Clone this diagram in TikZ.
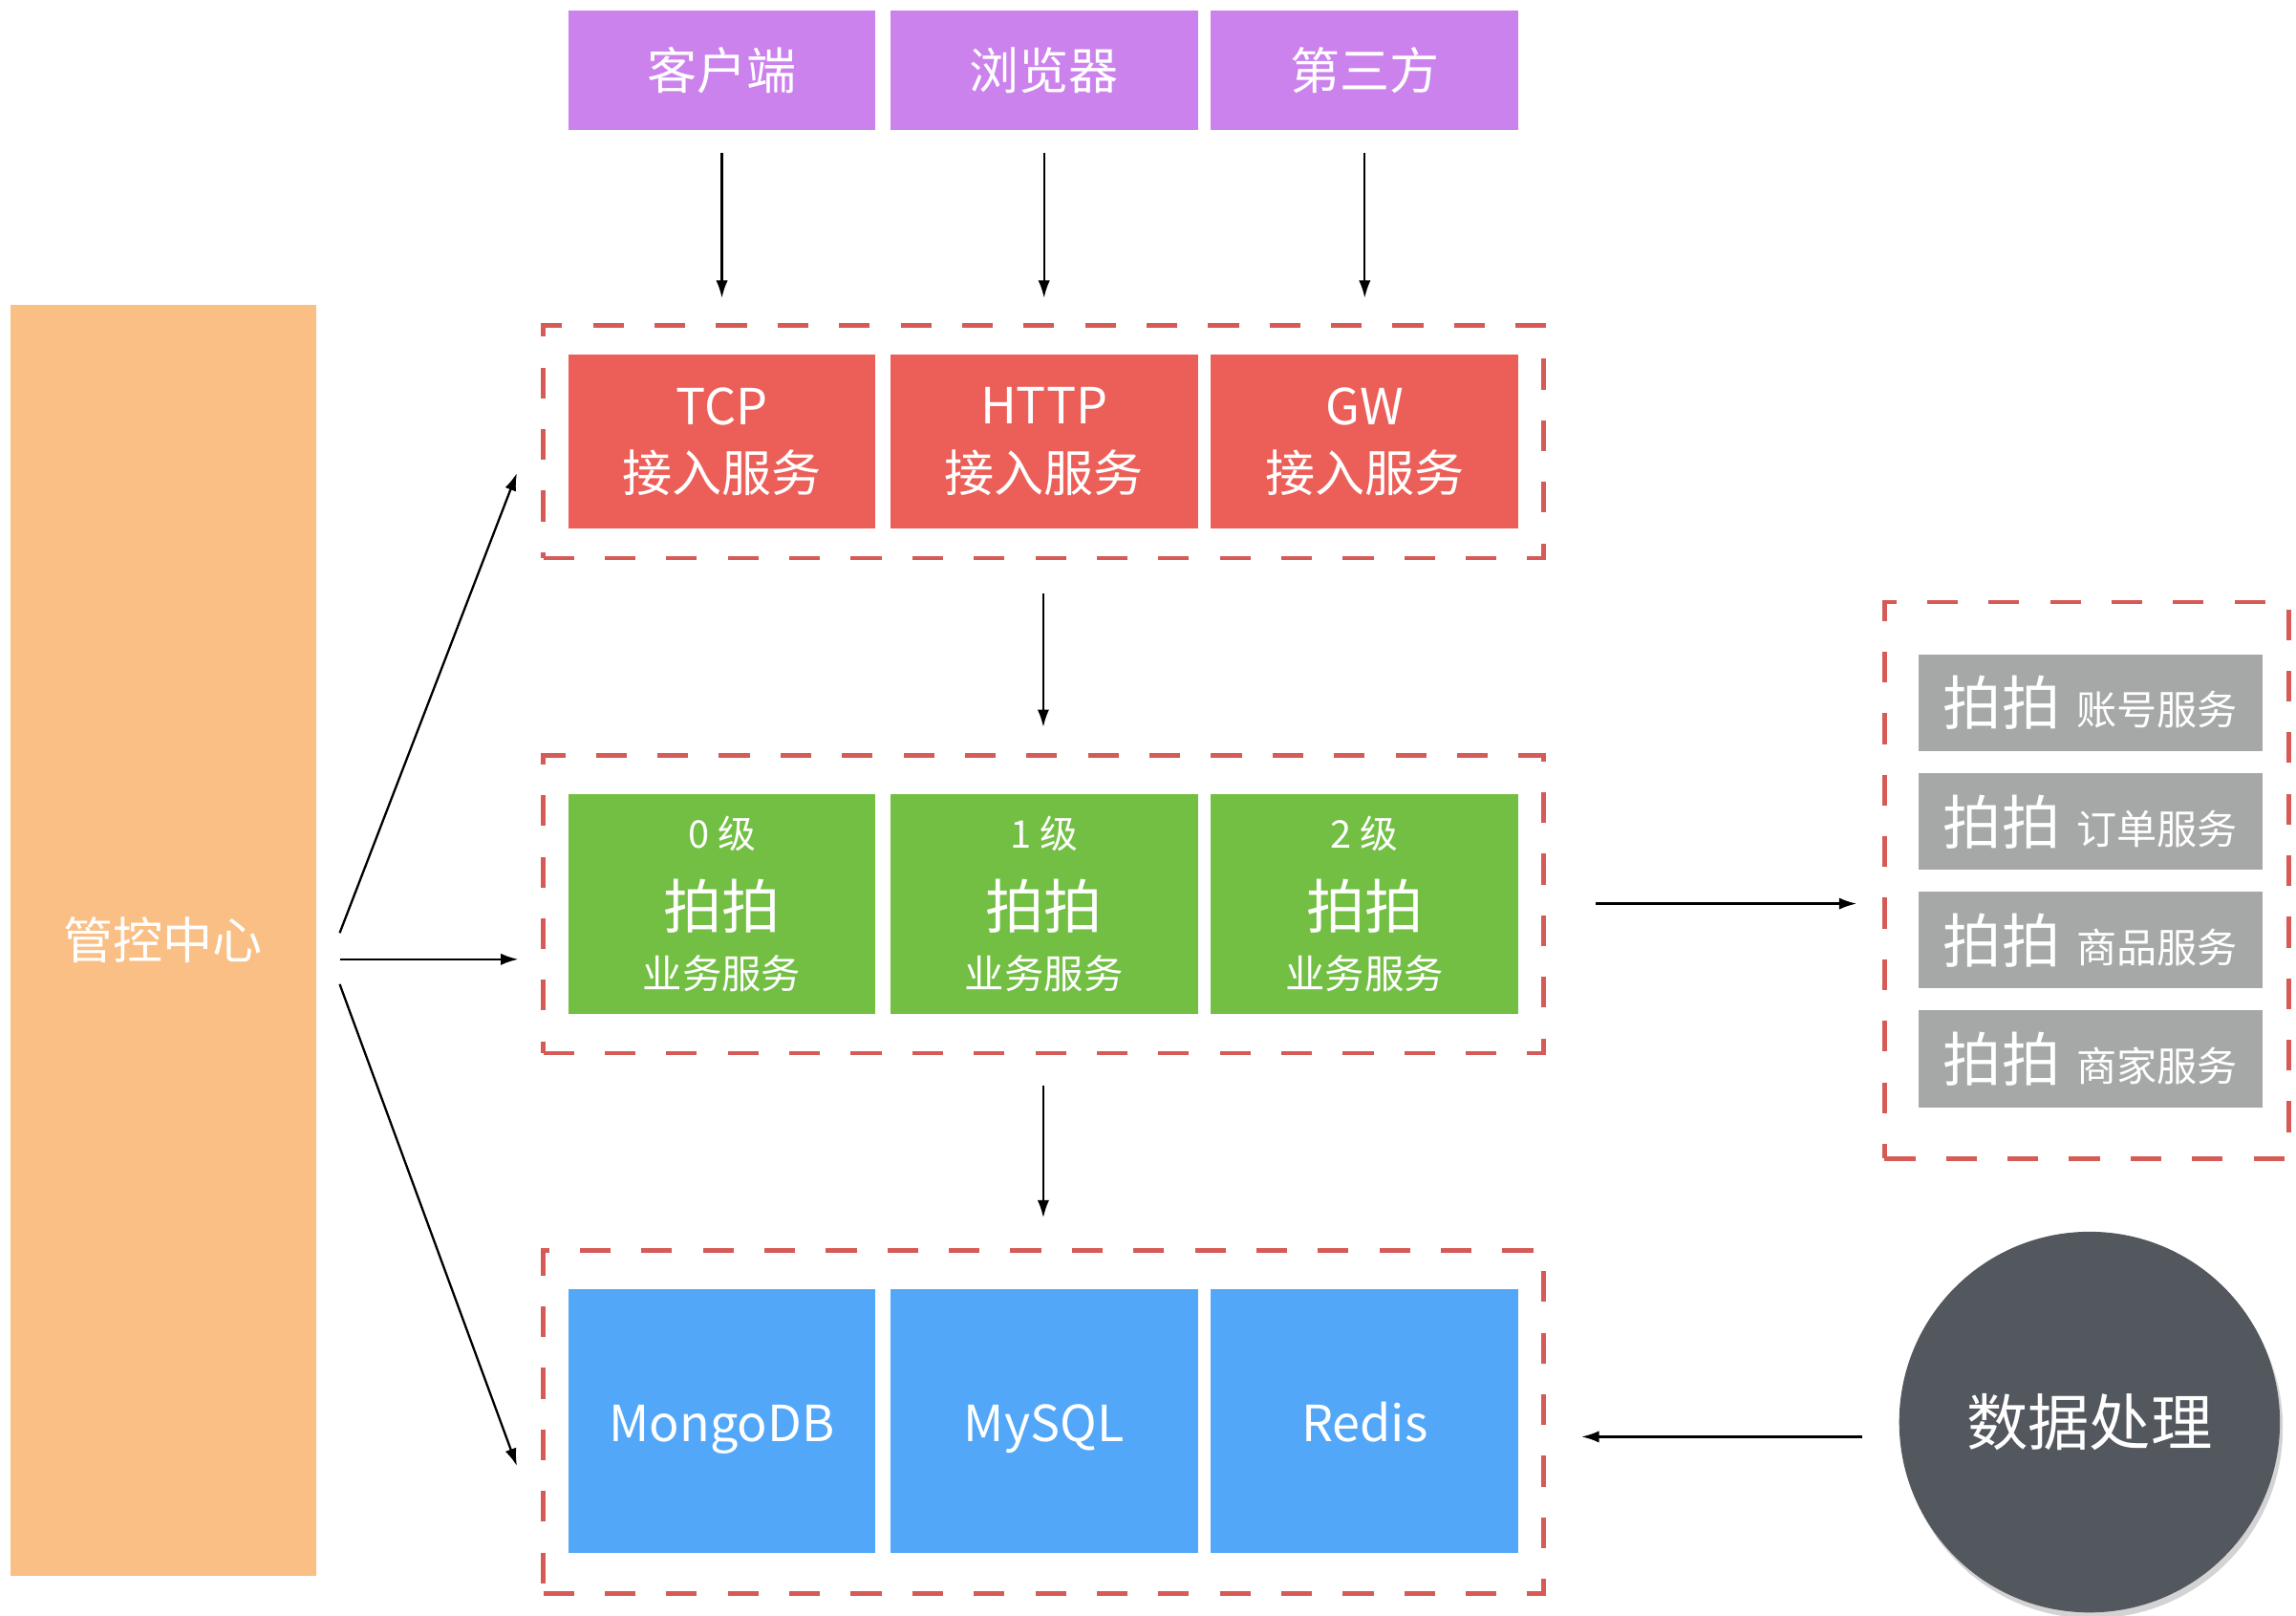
\documentclass[tikz,border=0pt]{standalone}
\usepackage{fontspec}
\setmainfont{Noto Sans CJK SC}
\usetikzlibrary{arrows.meta,shadows}
\definecolor{cpurple}{HTML}{CC82EC}
\definecolor{cred}{HTML}{EC5F58}
\definecolor{cgreen}{HTML}{72BF44}
\definecolor{cblue}{HTML}{52A7F8}
\definecolor{corange}{HTML}{F9BF85}
\definecolor{cgray}{HTML}{A5A8A6}
\definecolor{cdark}{HTML}{53575E}
\definecolor{cdash}{HTML}{D65A55}
\tikzset{
  box/.style={rectangle, inner sep=0pt, text=white, minimum width=210pt, align=center},
  dbox/.style={rectangle, draw=cdash, line width=3pt, dash pattern=on 21pt off 21pt, inner sep=0pt},
  arr/.style={-{Latex[length=12pt,width=8pt]}, line width=1.5pt, black},
  f34/.style={font=\fontsize{34}{46}\selectfont},
  gbox/.style={rectangle, fill=cgray, inner sep=0pt, minimum width=235pt, minimum height=66pt},
  lbl/.style={inner sep=0pt, text=white}
}
\begin{document}
\begin{tikzpicture}[x=1pt,y=-1pt]
\useasboundingbox (0,0) rectangle (1568,1103);
% top clients
\node[box, fill=cpurple, minimum height=82pt, f34] (p1) at (493,48) {客户端};
\node[box, fill=cpurple, minimum height=82pt, f34] (p2) at (713,48) {浏览器};
\node[box, fill=cpurple, minimum height=82pt, f34] (p3) at (932,48) {第三方};
% access layer
\node[dbox, minimum width=683pt, minimum height=159pt] (d1) at (712.5,301.5) {};
\node[box, fill=cred, minimum height=119pt, f34] (r1) at (493,301.5) {TCP\\接入服务};
\node[box, fill=cred, minimum height=119pt, f34] (r2) at (713,301.5) {HTTP\\接入服务};
\node[box, fill=cred, minimum height=119pt, f34] (r3) at (932,301.5) {GW\\接入服务};
% business layer
\node[dbox, minimum width=683pt, minimum height=203pt] (d2) at (712.5,617.5) {};
\foreach \i/\x/\lv in {1/493/0,2/713/1,3/932/2}{
  \node[box, fill=cgreen, minimum height=150pt] (g\i) at (\x,617) {};
  \node[lbl, font=\fontsize{26}{26}\selectfont] (g\i a) at (\x,569) {\lv\ 级};
  \node[lbl, font=\fontsize{40}{40}\selectfont] (g\i b) at (\x,619) {拍拍};
  \node[lbl, font=\fontsize{27}{27}\selectfont] (g\i c) at (\x,665) {业务服务};
}
% storage layer
\node[dbox, minimum width=683pt, minimum height=234pt] (d3) at (712.5,971) {};
\tikzset{bl/.style={box, fill=cblue, minimum height=180pt, f34, text height=31pt, text depth=3pt}}
\node[bl] (b1) at (493,970) {MongoDB};
\node[bl] (b2) at (713,970) {MySQL};
\node[bl] (b3) at (932,970) {Redis};
% control center
\node[rectangle, fill=corange, inner sep=0pt, minimum width=209pt, minimum height=868pt, text=white, f34] (ctl) at (111.5,642) {管控中心};
% right services
\node[dbox, minimum width=276pt, minimum height=380pt] (d4) at (1425,601) {};
\foreach \i/\y/\t in {1/480/账号服务,2/561/订单服务,3/642/商品服务,4/723/商家服务}{
  \node[gbox] (s\i) at (1427.5,\y) {};
  \node[lbl, anchor=west] (s\i t) at (1327,\y) {{\fontsize{40}{40}\selectfont 拍拍}\hspace{11pt}{\fontsize{27.5}{27.5}\selectfont \t}};
}
% data processing
\node[circle, fill=cdark, minimum size=260pt, inner sep=0pt, text=white,
      font=\fontsize{42}{42}\selectfont,
      drop shadow={opacity=0.35, shadow xshift=2pt, shadow yshift=-4pt}] (dp) at (1427,971) {数据处理};
% arrows top
\draw[arr] ([yshift=-15pt]p1.south) -- ([yshift=17pt]p1.south |- d1.north);
\draw[arr] ([yshift=-15pt]p2.south) -- ([yshift=17pt]p2.south |- d1.north);
\draw[arr] ([yshift=-15pt]p3.south) -- ([yshift=17pt]p3.south |- d1.north);
% vertical arrows between layers
\draw[arr] ([yshift=-23pt]d1.south) -- ([yshift=18pt]d2.north);
\draw[arr] ([yshift=-21pt]d2.south) -- ([yshift=21pt]d3.north);
% arrows from control center
\coordinate (c1) at (232,637);
\coordinate (c2) at (232,655);
\coordinate (c3) at (232,672);
\coordinate (e1) at (353,323);
\coordinate (e2) at (354,655);
\coordinate (e3) at (353,1001);
\draw[arr] (c1) -- (e1);
\draw[arr] (c2) -- (e2);
\draw[arr] (c3) -- (e3);
% business -> services
\coordinate (rs) at (1090,617);
\coordinate (re) at (1268,617);
\draw[arr] (rs) -- (re);
% data processing -> storage
\coordinate (ls) at (1272,981);
\coordinate (le) at (1080,981);
\draw[arr] (ls) -- (le);
\end{tikzpicture}
\end{document}
